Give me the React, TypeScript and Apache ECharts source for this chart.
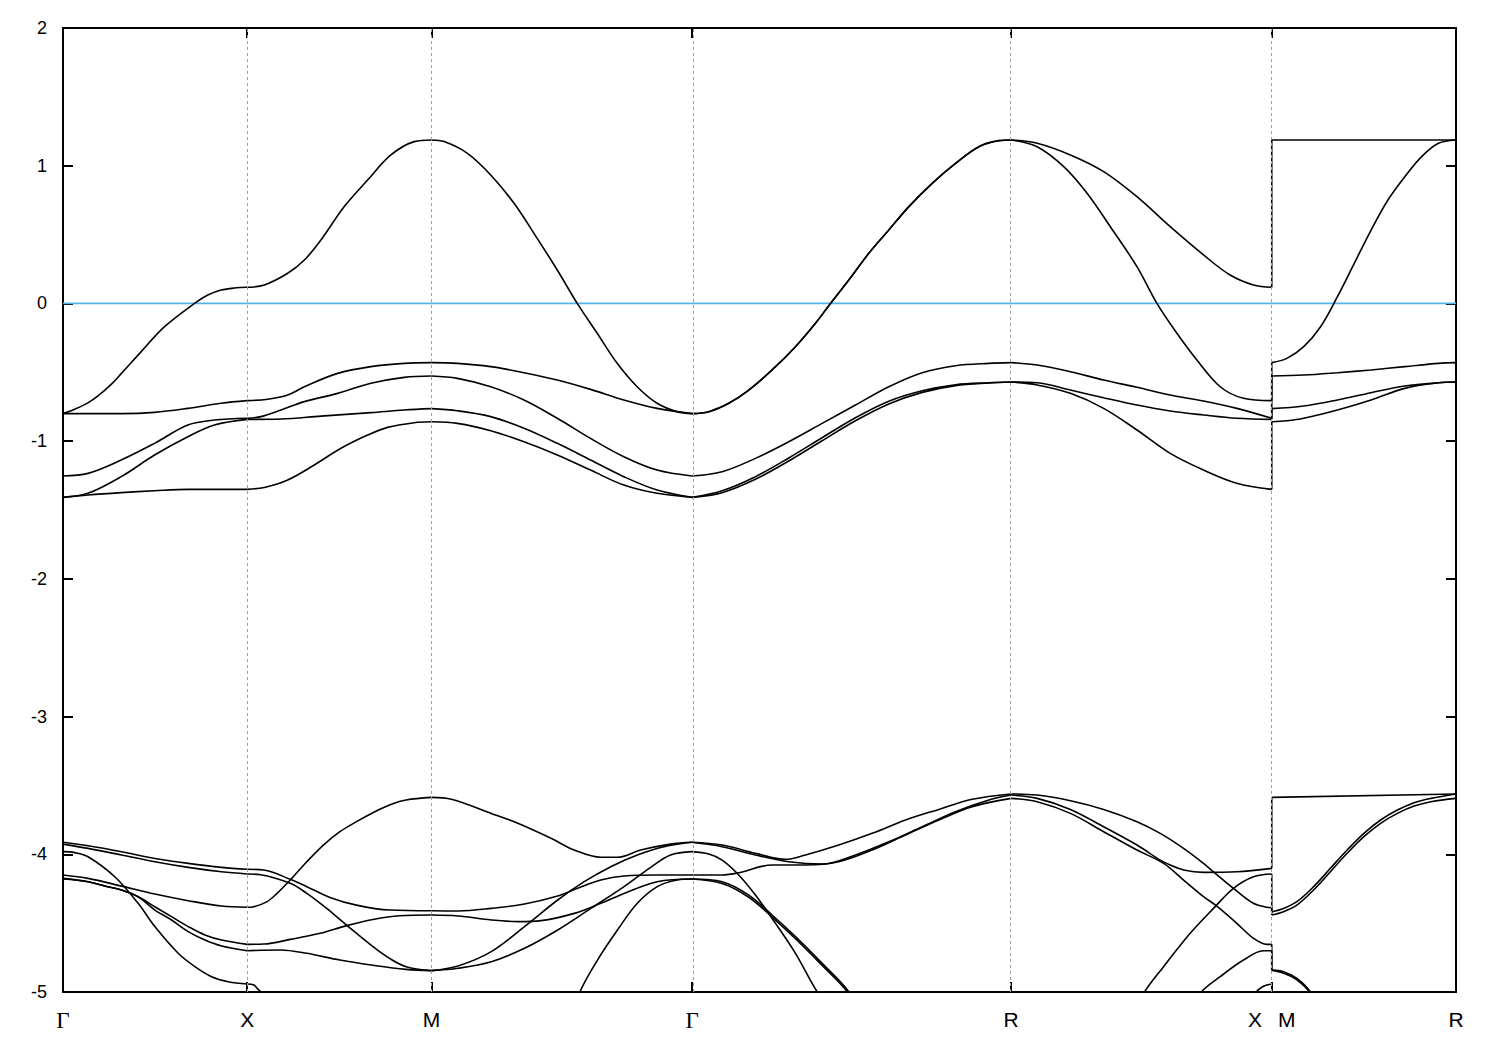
import React, { useEffect, useRef } from "react";
import * as echarts from "echarts";

// high-symmetry points along the k-path (units of 2π/a)
const kTicks = [0, 0.5, 1.0, 1.7071, 2.5731, 3.2802, 3.7802];
const kLabels = ["Γ", "X", "M", "Γ", "R", "X\u00a0\u00a0\u2009M", "R"];
const yTicks = { min: -5, max: 2, step: 1 };
const fermiLevel = [[0, 0], [3.7802, 0]];

// upper band group
const upper1 = [[0,-0.80],[0.0316,-0.768],[0.0678,-0.722],[0.0949,-0.672],[0.13,-0.59],[0.158,-0.51],[0.2123,-0.35],[0.2755,-0.169],[0.3568,0.0],[0.393,0.061],[0.429,0.097],[0.465,0.112],[0.5,0.117],
[0.5465,0.134],[0.6098,0.219],[0.655,0.315],[0.700,0.461],[0.7633,0.703],[0.8266,0.896],[0.8898,1.078],[0.953,1.175],[1.0,1.187],
[1.0343,1.175],[1.0975,1.09],[1.1607,0.933],[1.224,0.727],[1.278,0.509],[1.3413,0.243],[1.3955,0.0],[1.4497,-0.217],[1.5039,-0.435],[1.558,-0.605],[1.6122,-0.725],[1.6664,-0.786],[1.7071,-0.80],
[1.7524,-0.786],[1.8067,-0.725],[1.861,-0.629],[1.9243,-0.483],[1.9877,-0.314],[2.042,-0.144],[2.0827,0.0],[2.1325,0.17],[2.1868,0.364],[2.241,0.533],[2.2954,0.703],[2.3587,0.872],[2.422,1.017],[2.4854,1.138],[2.5397,1.182],[2.5731,1.187],
[2.6435,1.163],[2.7338,1.078],[2.824,0.957],[2.9144,0.775],[3.0047,0.557],[3.095,0.352],[3.1673,0.206],[3.2305,0.134],[3.2802,0.117],
[3.2802,1.187],[3.7802,1.187]];

const upper2 = [[0,-0.80],[0.158,-0.80],[0.2484,-0.791],[0.3388,-0.762],[0.4291,-0.725],[0.5,-0.706],
[0.5556,-0.696],[0.6098,-0.665],[0.655,-0.605],[0.7453,-0.508],[0.8356,-0.459],[0.9259,-0.435],[1.0,-0.43],
[1.0704,-0.435],[1.1607,-0.459],[1.251,-0.503],[1.3413,-0.556],[1.4316,-0.624],[1.5219,-0.701],[1.6122,-0.762],[1.7071,-0.80],
[1.7524,-0.786],[1.8067,-0.725],[1.861,-0.629],[1.9243,-0.483],[1.9877,-0.314],[2.042,-0.144],[2.0827,0.0],[2.1325,0.17],[2.1868,0.364],[2.241,0.533],[2.2954,0.703],[2.3587,0.872],[2.422,1.017],[2.4854,1.138],[2.5397,1.182],[2.5731,1.187],
[2.6435,1.138],[2.7158,0.993],[2.779,0.8],[2.8422,0.557],[2.9144,0.267],[2.9686,0.0],[3.0228,-0.217],[3.077,-0.411],[3.1402,-0.605],[3.2034,-0.689],[3.2802,-0.706],
[3.2802,-0.43],[3.3213,-0.399],[3.367,-0.314],[3.4127,-0.169],[3.4584,0.049],[3.5041,0.291],[3.5498,0.533],[3.5955,0.751],[3.6412,0.92],[3.6869,1.066],[3.7326,1.163],[3.7802,1.187]];

const upper3 = [[0,-1.253],[0.0678,-1.234],[0.158,-1.137],[0.2484,-1.016],[0.3388,-0.883],[0.411,-0.847],[0.5,-0.834],
[0.5375,-0.822],[0.5917,-0.774],[0.655,-0.713],[0.7453,-0.653],[0.8356,-0.58],[0.9259,-0.537],[1.0,-0.527],
[1.0704,-0.544],[1.1607,-0.605],[1.251,-0.701],[1.3413,-0.834],[1.4316,-0.98],[1.5219,-1.113],[1.6122,-1.21],[1.7071,-1.253],
[1.7886,-1.222],[1.879,-1.125],[1.9695,-1.004],[2.06,-0.871],[2.1505,-0.738],[2.241,-0.605],[2.3316,-0.503],[2.422,-0.452],[2.5125,-0.435],[2.5731,-0.43],
[2.6435,-0.447],[2.7338,-0.496],[2.824,-0.556],[2.9144,-0.609],[3.0047,-0.665],[3.095,-0.709],[3.1853,-0.762],[3.2802,-0.834],
[3.2802,-0.527],[3.367,-0.52],[3.4584,-0.503],[3.5498,-0.483],[3.6412,-0.459],[3.7326,-0.435],[3.7802,-0.43]];

const upper4 = [[0,-1.408],[0.0678,-1.379],[0.158,-1.258],[0.2484,-1.101],[0.3388,-0.968],[0.411,-0.883],[0.5,-0.842],
[0.5917,-0.839],[0.7001,-0.818],[0.8356,-0.793],[0.9259,-0.774],[1.0,-0.764],
[1.0704,-0.779],[1.1607,-0.822],[1.251,-0.907],[1.3413,-1.016],[1.4316,-1.137],[1.5219,-1.258],[1.6122,-1.355],[1.7071,-1.408],
[1.7886,-1.36],[1.879,-1.258],[1.9695,-1.122],[2.06,-0.975],[2.1505,-0.83],[2.241,-0.71],[2.3316,-0.634],[2.422,-0.59],[2.5125,-0.576],[2.5731,-0.571],
[2.6435,-0.576],[2.7338,-0.629],[2.824,-0.685],[2.9144,-0.738],[3.0047,-0.781],[3.095,-0.81],[3.1853,-0.834],[3.2802,-0.842],
[3.2802,-0.764],[3.367,-0.745],[3.4584,-0.701],[3.5498,-0.648],[3.6412,-0.6],[3.7326,-0.576],[3.7802,-0.571]];

const upper5 = [[0,-1.408],[0.0678,-1.391],[0.158,-1.374],[0.2484,-1.36],[0.3388,-1.35],[0.5,-1.35],
[0.5465,-1.336],[0.6098,-1.282],[0.682,-1.173],[0.7543,-1.052],[0.8266,-0.956],[0.8808,-0.9],[0.953,-0.866],[1.0,-0.859],
[1.0704,-0.871],[1.1607,-0.924],[1.251,-1.004],[1.3413,-1.1],[1.4316,-1.21],[1.5219,-1.319],[1.6122,-1.379],[1.7071,-1.408],
[1.7886,-1.374],[1.879,-1.277],[1.9695,-1.144],[2.06,-0.997],[2.1505,-0.852],[2.241,-0.73],[2.3316,-0.646],[2.422,-0.597],[2.5125,-0.578],[2.5731,-0.571],
[2.6435,-0.592],[2.7338,-0.653],[2.824,-0.762],[2.9144,-0.919],[3.0047,-1.089],[3.095,-1.21],[3.1853,-1.306],[3.2802,-1.35],
[3.2802,-0.859],[3.3213,-0.852],[3.367,-0.834],[3.4584,-0.774],[3.5498,-0.701],[3.6412,-0.617],[3.7326,-0.576],[3.7802,-0.571]];

// lower band group (values under -5 continue off the plotted window)
const lower1 = [[0,-3.913],[0.068,-3.938],[0.1586,-3.981],[0.2492,-4.03],[0.3398,-4.066],[0.4304,-4.095],[0.5,-4.109],
[0.5449,-4.114],[0.6167,-4.182],[0.6616,-4.235],[0.7245,-4.313],[0.7963,-4.369],[0.8861,-4.405],[1.0,-4.41],
[1.0721,-4.412],[1.1622,-4.393],[1.2523,-4.361],[1.3424,-4.303],[1.3964,-4.247],[1.4595,-4.187],[1.5226,-4.158],[1.6127,-4.15],[1.7071,-4.15],
[1.7886,-4.15],[1.8338,-4.134],[1.9243,-4.078],[2.0148,-4.078],[2.1053,-4.054],[2.1958,-3.969],[2.2863,-3.86],[2.3768,-3.751],[2.4673,-3.654],[2.5731,-3.594],
[2.6435,-3.618],[2.7338,-3.703],[2.8241,-3.836],[2.9144,-3.969],[2.9867,-4.066],[3.0409,-4.187],[3.095,-4.308],[3.1312,-4.376],[3.1853,-4.501],[3.2305,-4.61],[3.2666,-4.654],[3.2802,-4.654],
[3.2802,-4.841],[3.312,-4.853],[3.3484,-4.901],[3.3847,-4.998],[3.45,-5.3],[3.7802,-6.2]];

const lower2 = [[0,-3.926],[0.068,-3.957],[0.1586,-4.005],[0.2492,-4.054],[0.3398,-4.095],[0.4304,-4.127],[0.5,-4.143],
[0.5359,-4.148],[0.6167,-4.211],[0.6616,-4.284],[0.7155,-4.393],[0.7694,-4.514],[0.8412,-4.671],[0.8861,-4.756],[0.931,-4.816],[1.0,-4.845],
[1.0721,-4.811],[1.1622,-4.707],[1.2523,-4.525],[1.3424,-4.332],[1.4145,-4.199],[1.4865,-4.09],[1.5586,-4.005],[1.6307,-3.945],[1.7071,-3.913],
[1.7886,-3.933],[1.879,-3.993],[1.9605,-4.037],[2.0148,-4.005],[2.1053,-3.933],[2.1958,-3.848],[2.2863,-3.751],[2.3768,-3.674],[2.4673,-3.601],[2.5731,-3.562],
[2.6435,-3.57],[2.7338,-3.611],[2.8241,-3.674],[2.9144,-3.763],[2.9776,-3.848],[3.0409,-3.957],[3.095,-4.066],[3.1221,-4.127],[3.1763,-4.247],[3.2305,-4.356],[3.2666,-4.385],[3.2802,-4.388],
[3.2802,-4.441],[3.312,-4.417],[3.3484,-4.369],[3.3938,-4.259],[3.4393,-4.127],[3.4847,-3.993],[3.5302,-3.872],[3.5756,-3.775],[3.6211,-3.703],[3.6665,-3.65],[3.712,-3.618],[3.7802,-3.594]];

const lower3 = [[0,-3.981],[0.0317,-3.988],[0.068,-4.018],[0.1404,-4.163],[0.2039,-4.356],[0.2492,-4.525],[0.3126,-4.719],[0.3579,-4.816],[0.4032,-4.889],[0.4485,-4.925],[0.5,-4.942],
[0.518,-4.949],[0.5269,-4.974],[0.5404,-5.01],[0.6,-5.3],[1.0,-6.0],
[1.35,-5.4],[1.401,-5.01],[1.4505,-4.768],[1.5046,-4.55],[1.5586,-4.356],[1.6127,-4.235],[1.6667,-4.187],[1.7071,-4.18],
[1.7886,-4.199],[1.861,-4.296],[1.9243,-4.441],[1.9877,-4.598],[2.0601,-4.792],[2.1325,-4.998],[2.2,-5.3],[2.5731,-6.0],
[2.9,-5.2],[2.9325,-5.01],[2.9867,-4.816],[3.0589,-4.574],[3.1221,-4.393],[3.1763,-4.247],[3.2305,-4.163],[3.2802,-4.143],
[3.2802,-4.417],[3.312,-4.393],[3.3484,-4.344],[3.3938,-4.235],[3.4393,-4.102],[3.4847,-3.969],[3.5302,-3.848],[3.5756,-3.751],[3.6211,-3.679],[3.6665,-3.625],[3.712,-3.594],[3.7802,-3.562]];

const lower4 = [[0,-4.15],[0.068,-4.175],[0.1586,-4.231],[0.2492,-4.289],[0.3398,-4.337],[0.4304,-4.376],[0.5,-4.385],
[0.518,-4.381],[0.5539,-4.344],[0.5808,-4.284],[0.6167,-4.187],[0.6616,-4.054],[0.7065,-3.933],[0.7514,-3.836],[0.7963,-3.763],[0.8412,-3.698],[0.8861,-3.642],[0.931,-3.606],[1.0,-3.587],
[1.0541,-3.601],[1.1622,-3.703],[1.2343,-3.775],[1.3243,-3.884],[1.3874,-3.969],[1.4595,-4.022],[1.5046,-4.022],[1.5676,-3.969],[1.6487,-3.926],[1.7071,-3.913],
[1.7886,-3.945],[1.879,-4.005],[1.9696,-4.054],[2.0601,-4.071],[2.1506,-4.005],[2.241,-3.909],[2.3316,-3.8],[2.422,-3.691],[2.5126,-3.606],[2.5731,-3.57],
[2.6435,-3.594],[2.7338,-3.674],[2.8241,-3.8],[2.9144,-3.933],[2.9776,-4.042],[3.0047,-4.078],[3.0409,-4.114],[3.095,-4.131],[3.1853,-4.127],[3.2802,-4.102],
[3.2802,-3.587],[3.7802,-3.562]];

const lower5 = [[0,-4.175],[0.068,-4.199],[0.1135,-4.231],[0.1586,-4.259],[0.2039,-4.308],[0.2492,-4.381],[0.2945,-4.453],[0.3398,-4.525],[0.3851,-4.586],[0.4304,-4.623],[0.5,-4.654],
[0.5449,-4.652],[0.6167,-4.618],[0.6976,-4.574],[0.7694,-4.518],[0.8412,-4.473],[0.9131,-4.446],[1.0,-4.441],
[1.0721,-4.448],[1.1622,-4.477],[1.2343,-4.489],[1.2973,-4.482],[1.3874,-4.429],[1.4595,-4.356],[1.5226,-4.284],[1.6127,-4.199],[1.7071,-4.18],
[1.7886,-4.212],[1.861,-4.312],[1.9243,-4.456],[1.9877,-4.613],[2.0601,-4.807],[2.1325,-5.013],[2.2,-5.32],[2.5731,-6.0],
[3.05,-5.2],[3.086,-5.01],[3.1402,-4.889],[3.2034,-4.768],[3.2576,-4.70],[3.2802,-4.70],
[3.2802,-4.841],[3.312,-4.863],[3.3484,-4.911],[3.3847,-5.008],[3.45,-5.31],[3.7802,-6.2]];

const lower6 = [[0,-4.18],[0.068,-4.199],[0.1135,-4.231],[0.1586,-4.259],[0.2039,-4.308],[0.2492,-4.405],[0.2945,-4.477],[0.3398,-4.562],[0.3851,-4.623],[0.4304,-4.666],[0.5,-4.70],
[0.5898,-4.695],[0.6616,-4.719],[0.7514,-4.768],[0.8412,-4.806],[0.931,-4.836],[1.0,-4.845],
[1.0721,-4.828],[1.1622,-4.78],[1.2523,-4.683],[1.3424,-4.55],[1.4325,-4.393],[1.5226,-4.235],[1.5947,-4.095],[1.6487,-4.005],[1.7071,-3.981],
[1.7524,-3.998],[1.7886,-4.042],[1.8293,-4.138],[1.879,-4.296],[1.9334,-4.501],[1.9877,-4.719],[2.0465,-4.998],[2.15,-5.4],[2.5731,-6.5],
[3.2,-5.2],[3.235,-5.01],[3.2576,-4.958],[3.2802,-4.942],
[3.2802,-6.0],[3.7802,-7.0]];

const bands = [upper1, upper2, upper3, upper4, upper5, lower1, lower2, lower3, lower4, lower5, lower6];

// split a band at the high-symmetry points so that smoothing never crosses a kink
function splitAtTicks(pts: number[][]): number[][][] {
  const isTick = (k: number) => kTicks.some((t) => Math.abs(t - k) < 1e-6);
  const pieces: number[][][] = [];
  let cur: number[][] = [pts[0]];
  for (let i = 1; i < pts.length; i++) {
    cur.push(pts[i]);
    if (isTick(pts[i][0]) && i < pts.length - 1) {
      pieces.push(cur);
      cur = [pts[i]];
    }
  }
  if (cur.length > 1) pieces.push(cur);
  return pieces;
}

export default function App() {
  const ref = useRef<HTMLDivElement>(null);
  useEffect(() => {
    if (!ref.current) return;
    const chart = echarts.init(ref.current, null, { renderer: "svg" });
    const black = { color: "#000", width: 2 };

    const bandSeries: any[] = [];
    bands.forEach((b) => {
      splitAtTicks(b).forEach((piece) => {
        bandSeries.push({
          type: "line",
          data: piece,
          showSymbol: false,
          symbol: "none",
          smooth: piece.length > 2 ? 0.35 : false,
          clip: true,
          silent: true,
          z: 3,
          lineStyle: { color: "#000", width: 1.6 },
        });
      });
    });

    const labelFor = (v: number) => {
      const i = kTicks.findIndex((k) => Math.abs(k - v) < 1e-3);
      if (i < 0) return "";
      const s = kLabels[i];
      return s === "Γ" ? "{g|Γ}" : s;
    };

    chart.setOption({
      animation: false,
      backgroundColor: "#fff",
      textStyle: { fontFamily: "Liberation Sans, Arial, sans-serif" },
      grid: { left: 63, right: 44, top: 28, bottom: 58 },
      xAxis: [
        {
          type: "value",
          min: kTicks[0],
          max: kTicks[kTicks.length - 1],
          position: "bottom",
          axisLine: { show: true, onZero: false, lineStyle: black },
          axisTick: { show: true, inside: true, length: 10, customValues: kTicks.slice(1, -1), lineStyle: black },
          axisLabel: {
            show: true,
            customValues: kTicks,
            formatter: labelFor,
            fontSize: 21,
            color: "#000",
            fontFamily: "Liberation Sans",
            margin: 17,
            showMinLabel: true,
            showMaxLabel: true,
            hideOverlap: false,
            rich: { g: { fontFamily: "Liberation Serif", fontSize: 23, color: "#000" } },
          },
          splitLine: { show: false },
        },
        {
          type: "value",
          min: kTicks[0],
          max: kTicks[kTicks.length - 1],
          position: "top",
          axisLine: { show: true, onZero: false, lineStyle: black },
          axisTick: { show: true, inside: true, length: 10, customValues: kTicks.slice(1, -1), lineStyle: black },
          axisLabel: { show: false },
          splitLine: { show: false },
        },
      ],
      yAxis: [
        {
          type: "value",
          min: yTicks.min,
          max: yTicks.max,
          interval: yTicks.step,
          position: "left",
          axisLine: { show: true, onZero: false, lineStyle: black },
          axisTick: { show: true, inside: true, length: 10, lineStyle: black },
          axisLabel: { fontSize: 18, color: "#000", fontFamily: "Liberation Sans", margin: 16 },
          splitLine: { show: false },
        },
        {
          type: "value",
          min: yTicks.min,
          max: yTicks.max,
          interval: yTicks.step,
          position: "right",
          axisLine: { show: true, onZero: false, lineStyle: black },
          axisTick: { show: true, inside: true, length: 10, lineStyle: black },
          axisLabel: { show: false },
          splitLine: { show: false },
        },
      ],
      series: [
        {
          type: "line",
          data: fermiLevel,
          showSymbol: false,
          symbol: "none",
          silent: true,
          z: 2,
          lineStyle: { color: "#56b4e9", width: 1.8 },
          markLine: {
            silent: true,
            symbol: ["none", "none"],
            label: { show: false },
            lineStyle: { color: "#a0a0a0", type: [3, 3], width: 1 },
            data: kTicks.slice(1, -1).map((k) => ({ xAxis: k })),
          },
        },
        ...bandSeries,
      ],
    });
    return () => chart.dispose();
  }, []);
  return (
    <div
      ref={ref}
      style={{ position: "fixed", left: 0, top: 0, width: 1500, height: 1050, background: "#fff" }}
    />
  );
}
